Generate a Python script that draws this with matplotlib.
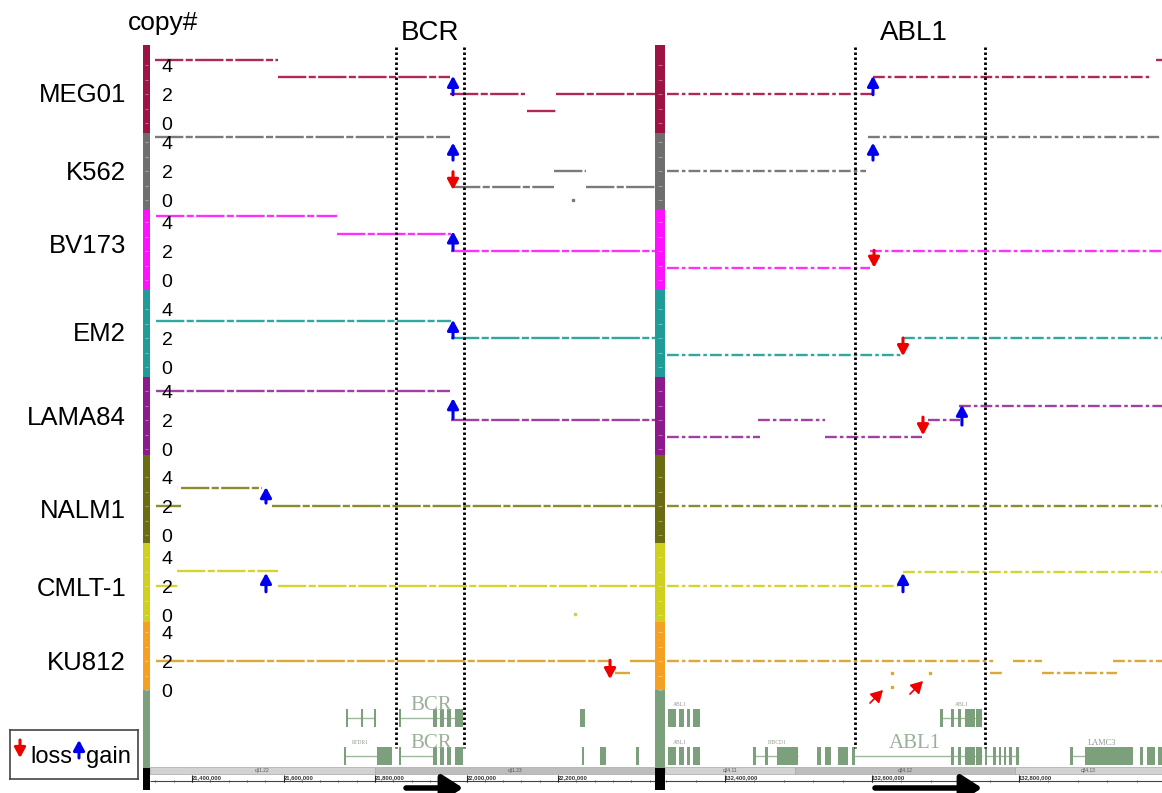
import numpy as np
import matplotlib
matplotlib.use("Agg")
import matplotlib.pyplot as plt
from matplotlib.patches import Rectangle
from matplotlib.transforms import blended_transform_factory

plt.rcParams['font.family'] = ['Liberation Sans', 'DejaVu Sans']

# ------------------------------------------------------------------ data
cell_lines = ["MEG01", "K562", "BV173", "EM2", "LAMA84", "NALM1", "CMLT-1", "KU812"]
bar_colors = ["#9C1444", "#6E6E6E", "#FF10FF", "#1F9C98", "#8C1A8C",
              "#6B6B12", "#D0D020", "#F5A022"]
line_colors = ["#B02858", "#7A7A7A", "#FF30FF", "#30A8A0", "#A040A0",
               "#8C8C2C", "#D4D430", "#DCA838"]
copy_ticks = [0, 2, 4]

# segments (start Mb, end Mb, copy number) -- chr22 / BCR window
meg01_bcr = [(21.319, 21.588, 4.35), (21.588, 21.964, 3.2), (21.964, 22.128, 2.0),
             (22.132, 22.196, 0.85), (22.196, 22.412, 2.0)]
k562_bcr = [(21.319, 21.964, 4.35), (21.968, 22.191, 0.9), (22.191, 22.261, 2.0),
            (22.261, 22.412, 0.9)]
bv173_bcr = [(21.321, 21.717, 4.4), (21.717, 21.966, 3.2), (21.966, 22.412, 2.0)]
em2_bcr = [(21.321, 21.966, 3.15), (21.966, 22.412, 2.0)]
lama84_bcr = [(21.321, 21.964, 4.0), (21.966, 22.412, 2.0)]
nalm1_bcr = [(21.321, 21.376, 2.0), (21.376, 21.553, 3.25), (21.575, 22.412, 2.0)]
cmlt1_bcr = [(21.321, 21.367, 2.0), (21.367, 21.588, 3.05), (21.588, 22.412, 2.0)]
ku812_bcr = [(21.321, 22.314, 2.0), (22.325, 22.357, 1.15), (22.357, 22.412, 2.0)]

# segments -- chr9 / ABL1 window
meg01_abl1 = [(132.321, 132.601, 2.0), (132.601, 132.981, 3.2), (132.986, 132.995, 4.35)]
k562_abl1 = [(132.321, 132.592, 2.0), (132.595, 132.995, 4.35)]
bv173_abl1 = [(132.321, 132.597, 0.85), (132.597, 132.995, 2.0)]
em2_abl1 = [(132.321, 132.642, 0.8), (132.642, 132.995, 2.0)]
lama84_abl1 = [(132.321, 132.448, 0.85), (132.445, 132.536, 2.0), (132.536, 132.668, 0.85),
               (132.676, 132.720, 2.0), (132.718, 132.995, 2.95)]
nalm1_abl1 = [(132.321, 132.995, 2.0)]
cmlt1_abl1 = [(132.321, 132.635, 2.0), (132.642, 132.995, 3.0)]
ku812_abl1 = [(132.321, 132.765, 2.0), (132.761, 132.778, 1.15), (132.792, 132.831, 2.0),
              (132.831, 132.933, 1.15), (132.928, 132.995, 2.0)]

# isolated probes (cell line, Mb, copy number)
bcr_points = [("K562", 22.233, 0.0), ("CMLT-1", 22.237, 0.05)]
abl1_points = [("KU812", 132.627, 1.15), ("KU812", 132.679, 1.15), ("KU812", 132.627, 0.2)]

# breakpoint arrows (cell line, Mb, copy from, copy to)
bcr_gain = [("MEG01", 21.9705, 1.95, 3.25), ("K562", 21.9705, 2.75, 3.95),
            ("BV173", 21.9705, 2.05, 3.35), ("EM2", 21.9705, 2.0, 3.25),
            ("LAMA84", 21.9705, 2.1, 3.5), ("NALM1", 21.5617, 2.2, 3.3),
            ("CMLT-1", 21.5617, 1.6, 2.9)]
bcr_loss = [("K562", 21.9705, 1.95, 0.7), ("KU812", 22.3137, 2.05, 0.75)]
abl1_gain = [("MEG01", 132.6014, 1.95, 3.25), ("K562", 132.6014, 2.75, 3.95),
             ("LAMA84", 132.7224, 1.65, 3.05), ("CMLT-1", 132.6422, 1.6, 2.9)]
abl1_loss = [("BV173", 132.6028, 2.05, 0.85), ("EM2", 132.6422, 2.0, 0.75),
             ("LAMA84", 132.6694, 2.2, 0.95)]
# small diagonal markers (cell line, x0, cn0, x1, cn1)
abl1_marks = [("KU812", 132.5973, -0.9, 132.6150, 0.0),
              ("KU812", 132.6517, -0.28, 132.6694, 0.62)]

# gene boundaries (dotted lines)
bcr_bounds = [21.8459, 21.9945]
abl1_bounds = [132.5769, 132.7537]
bcr_arrow = (21.8678, 21.9923)
abl1_arrow = (132.6041, 132.7497)

# gene models: exons and introns (Mb)
bcr_row1_exons = [(21.7358, 21.7418), (21.7686, 21.7746), (21.7970, 21.8030),
                  (21.8516, 21.8576), (21.9268, 21.9355), (21.9421, 21.9508),
                  (21.9574, 21.9661), (21.9749, 21.9923), (22.2481, 22.2590)]
bcr_row1_introns = [(21.7388, 21.8000), (21.8546, 21.9923)]
bcr_row2_exons = [(21.7314, 21.7374), (21.8044, 21.8372), (21.8516, 21.8576),
                  (21.9268, 21.9355), (21.9421, 21.9508), (21.9574, 21.9661),
                  (21.9749, 21.9923), (22.2516, 22.2576), (22.2918, 22.3049),
                  (22.3705, 22.3771)]
bcr_row2_introns = [(21.7344, 21.8044), (21.8546, 21.9268)]
abl1_row1_exons = [(132.3225, 132.3334), (132.3374, 132.3442), (132.3483, 132.3524),
                   (132.3565, 132.3660), (132.6932, 132.6972), (132.7082, 132.7122),
                   (132.7170, 132.7211), (132.7265, 132.7401), (132.7415, 132.7497)]
abl1_row1_introns = [(132.6952, 132.7497)]
abl1_row2_exons = [(132.3225, 132.3334), (132.3374, 132.3442), (132.3483, 132.3524),
                   (132.3565, 132.3660), (132.4388, 132.4428), (132.4551, 132.4591),
                   (132.4708, 132.4993), (132.5252, 132.5306), (132.5361, 132.5442),
                   (132.5537, 132.5673), (132.5735, 132.5775), (132.7082, 132.7122),
                   (132.7170, 132.7211), (132.7265, 132.7401), (132.7415, 132.7497),
                   (132.7531, 132.7571), (132.7646, 132.7687), (132.7722, 132.7762),
                   (132.7790, 132.7830), (132.7871, 132.7911), (132.7966, 132.8006),
                   (132.8701, 132.8741), (132.8898, 132.9551), (132.9646, 132.9687),
                   (132.9741, 132.9850), (132.9891, 132.9946)]
abl1_row2_introns = [(132.4408, 132.4993), (132.5755, 132.7497), (132.7551, 132.8000),
                     (132.8721, 132.8898)]
# gene labels (text, Mb, row, size)
bcr_gene_labels = [("BCR", 21.9235, 1, 15), ("BCR", 21.9235, 2, 15), ("RTDR1", 21.7672, 2, 4)]
abl1_gene_labels = [("ABL1", 132.3388, 1, 4), ("ABL1", 132.7224, 1, 4), ("ABL1", 132.3388, 2, 4),
                    ("FIBCD1", 132.4708, 2, 4), ("ABL1", 132.6585, 2, 15), ("LAMC3", 132.9129, 2, 6)]

# cytobands and ruler ticks
bcr_bands = [(21.3082, 21.80, "q11.22"), (21.80, 22.412, "q11.23")]
abl1_bands = [(132.3184, 132.4952, "q34.11"), (132.4952, 132.7946, "q34.12"),
              (132.7946, 132.9946, "q34.13")]
bcr_ticks = [21.4, 21.6, 21.8, 22.0, 22.2]
abl1_ticks = [132.4, 132.6, 132.8]

# ------------------------------------------------------------------ layout
W, H = 1162, 793
TOP, BOT = 45, 793
TRACK_EDGES = [45, 133, 210, 289, 377, 455, 543, 622, 690, 768, 790]
C2_ROW = [94, 171, 251, 338, 420, 506, 586, 661]
LABEL_ROW = [92, 170, 243, 331, 415, 508, 587, 660]
PX_PER_CN = 14.5
GENE_ROW = {1: 718, 2: 756}
GENE_LABEL_ROW = {1: 705, 2: 743}
GENE_GREEN = "#7BA07B"
BLUE, RED = "#0000EE", "#EE0000"

fig = plt.figure(figsize=(W / 100, H / 100), dpi=100)


def fx(px):
    return px / W


def fy(py):
    return 1 - py / H


def row(name, cn):
    i = cell_lines.index(name)
    return C2_ROW[i] - (cn - 2) * PX_PER_CN


def add_panel(x0, x1, xlim):
    ax = fig.add_axes([fx(x0), fy(BOT), (x1 - x0) / W, (BOT - TOP) / H])
    ax.set_xlim(*xlim)
    ax.set_ylim(BOT, TOP)
    ax.axis("off")
    return ax


def add_bar(x0, x1):
    ax = fig.add_axes([fx(x0), fy(BOT), (x1 - x0) / W, (BOT - TOP) / H])
    ax.set_xlim(0, 1)
    ax.set_ylim(BOT, TOP)
    ax.axis("off")
    cols = bar_colors + [GENE_GREEN, "black"]
    for i, c in enumerate(cols):
        ax.add_patch(Rectangle((0, TRACK_EDGES[i]), 1, TRACK_EDGES[i + 1] - TRACK_EDGES[i],
                               color=c, lw=0))
    for name in cell_lines:
        for cn in range(0, 5):
            ax.hlines(row(name, cn), 0.3, 0.7, color="white", alpha=0.35, lw=0.8)
    return ax


def draw_arrow(ax, x0, y0, x1, y1, color, lw=2.2, ms=11, hl=0.55, hw=0.3):
    ax.annotate("", xy=(x1, y1), xytext=(x0, y0), annotation_clip=False,
                arrowprops=dict(arrowstyle=f"-|>,head_length={hl},head_width={hw}",
                                color=color, lw=lw, mutation_scale=ms,
                                shrinkA=0, shrinkB=0), zorder=6)


def draw_panel(ax, segs, points, gains, losses, bounds, arrow, rows_exons,
               rows_introns, gene_labels, bands, ticks, dash):
    # copy-number segments
    for name, col, seglist in zip(cell_lines, line_colors, segs):
        for s, e, cn in seglist:
            ax.hlines(row(name, cn), s, e, colors=col, lw=1.7, linestyles=[dash], zorder=3)
    for name, x, cn in points:
        col = line_colors[cell_lines.index(name)]
        ax.plot([x], [row(name, cn)], marker="s", ms=2, color=col, lw=0, zorder=3)
    for name, x, c0, c1 in gains:
        draw_arrow(ax, x, row(name, c0), x, row(name, c1), BLUE)
    for name, x, c0, c1 in losses:
        draw_arrow(ax, x, row(name, c0), x, row(name, c1), RED)
    # gene boundaries
    ax.vlines(bounds, 47, 748, colors="black", lw=2.0, linestyles=[(0, (0.9, 0.9))], zorder=5)
    # gene models
    for r, (exons, introns) in enumerate(zip(rows_exons, rows_introns), start=1):
        yc = GENE_ROW[r]
        for s, e in introns:
            ax.hlines(yc, s, e, colors="#9DB89D", lw=1.0, zorder=2)
        ax.broken_barh([(s, e - s) for s, e in exons], (yc - 9, 18),
                       facecolors=GENE_GREEN, edgecolors="none", zorder=3)
    for txt, x, r, size in gene_labels:
        ax.text(x, GENE_LABEL_ROW[r], txt, ha="center", va="center", fontsize=size,
                family=["Liberation Serif", "DejaVu Serif"],
                color="#9AB09A" if size > 10 else "#8A9A8A", zorder=4)
    # cytoband
    band_cols = ["#D2D2D2", "#BDBDBD", "#D2D2D2"]
    for k, (s, e, lab) in enumerate(bands):
        ax.add_patch(Rectangle((s, 767), e - s, 7, facecolor=band_cols[k % 3],
                               edgecolor="#A8A8A8", lw=0.5, zorder=2))
        ax.text((s + e) / 2, 770.5, lab, ha="center", va="center", fontsize=3.5,
                color="#555555", zorder=3)
    # ruler
    xl = ax.get_xlim()
    ax.hlines(781, xl[0], xl[1], colors="#444444", lw=0.8)
    minor = np.arange(np.ceil(xl[0] / 0.04) * 0.04, xl[1], 0.04)
    ax.vlines(minor, 779.5, 782, colors="#444444", lw=0.6)
    for t in ticks:
        ax.vlines(t, 775, 782, colors="#222222", lw=0.8)
        ax.text(t, 777.5, f"{int(round(t * 1e6)):,}", ha="left", va="center",
                fontsize=4.2, fontweight="bold", color="#333333")
    # transcription direction arrow
    draw_arrow(ax, arrow[0], 788, arrow[1], 788, "black", lw=4, ms=18, hl=0.7, hw=0.45)


axL = add_panel(150, 655, (21.3082, 22.4120))
axR = add_panel(665, 1162, (132.3184, 132.9946))
add_bar(143, 150)
add_bar(655, 665)

draw_panel(axL, [meg01_bcr, k562_bcr, bv173_bcr, em2_bcr, lama84_bcr, nalm1_bcr,
                 cmlt1_bcr, ku812_bcr], bcr_points, bcr_gain, bcr_loss, bcr_bounds,
           bcr_arrow, [bcr_row1_exons, bcr_row2_exons], [bcr_row1_introns, bcr_row2_introns],
           bcr_gene_labels, bcr_bands, bcr_ticks, (0, (12, 1.0, 3, 1.0)))
draw_panel(axR, [meg01_abl1, k562_abl1, bv173_abl1, em2_abl1, lama84_abl1, nalm1_abl1,
                 cmlt1_abl1, ku812_abl1], abl1_points, abl1_gain, abl1_loss, abl1_bounds,
           abl1_arrow, [abl1_row1_exons, abl1_row2_exons], [abl1_row1_introns, abl1_row2_introns],
           abl1_gene_labels, abl1_bands, abl1_ticks, (0, (5, 1.3, 1.5, 1.3)))

for name, x0, c0, x1, c1 in abl1_marks:
    draw_arrow(axR, x0, row(name, c0), x1, row(name, c1), RED, lw=1.2, ms=9, hl=0.8, hw=0.45)

# titles
axL.text(np.mean(bcr_bounds), 40, "BCR", ha="center", va="baseline", fontsize=20)
axR.text(np.mean(abl1_bounds) - 0.0085, 40, "ABL1", ha="center", va="baseline", fontsize=20)
fig.text(fx(163), fy(30), "copy#", ha="center", va="baseline", fontsize=19)

# track names and copy-number tick labels
tr = blended_transform_factory(fig.transFigure, axL.transData)
for i, name in enumerate(cell_lines):
    axL.text(fx(126), LABEL_ROW[i] + 9.5, name, transform=tr, ha="right",
             va="baseline", fontsize=18.5)
    for c in copy_ticks:
        axL.text(fx(167), row(name, c) + 7, str(c), transform=tr, ha="center",
                 va="baseline", fontsize=14)

# legend box
axG = fig.add_axes([fx(10), fy(779), 128 / W, 49 / H])
axG.set_xlim(0, 128)
axG.set_ylim(49, 0)
axG.set_xticks([])
axG.set_yticks([])
for sp in axG.spines.values():
    sp.set_color("#444444")
    sp.set_linewidth(1.2)
draw_arrow(axG, 10, 10, 10, 28, RED, lw=2.2, ms=11)
axG.text(20, 33, "loss", ha="left", va="baseline", fontsize=17)
draw_arrow(axG, 69, 28, 69, 10, BLUE, lw=2.2, ms=11)
axG.text(76, 33, "gain", ha="left", va="baseline", fontsize=17)

fig.savefig("out.png", dpi=100, facecolor="white")
